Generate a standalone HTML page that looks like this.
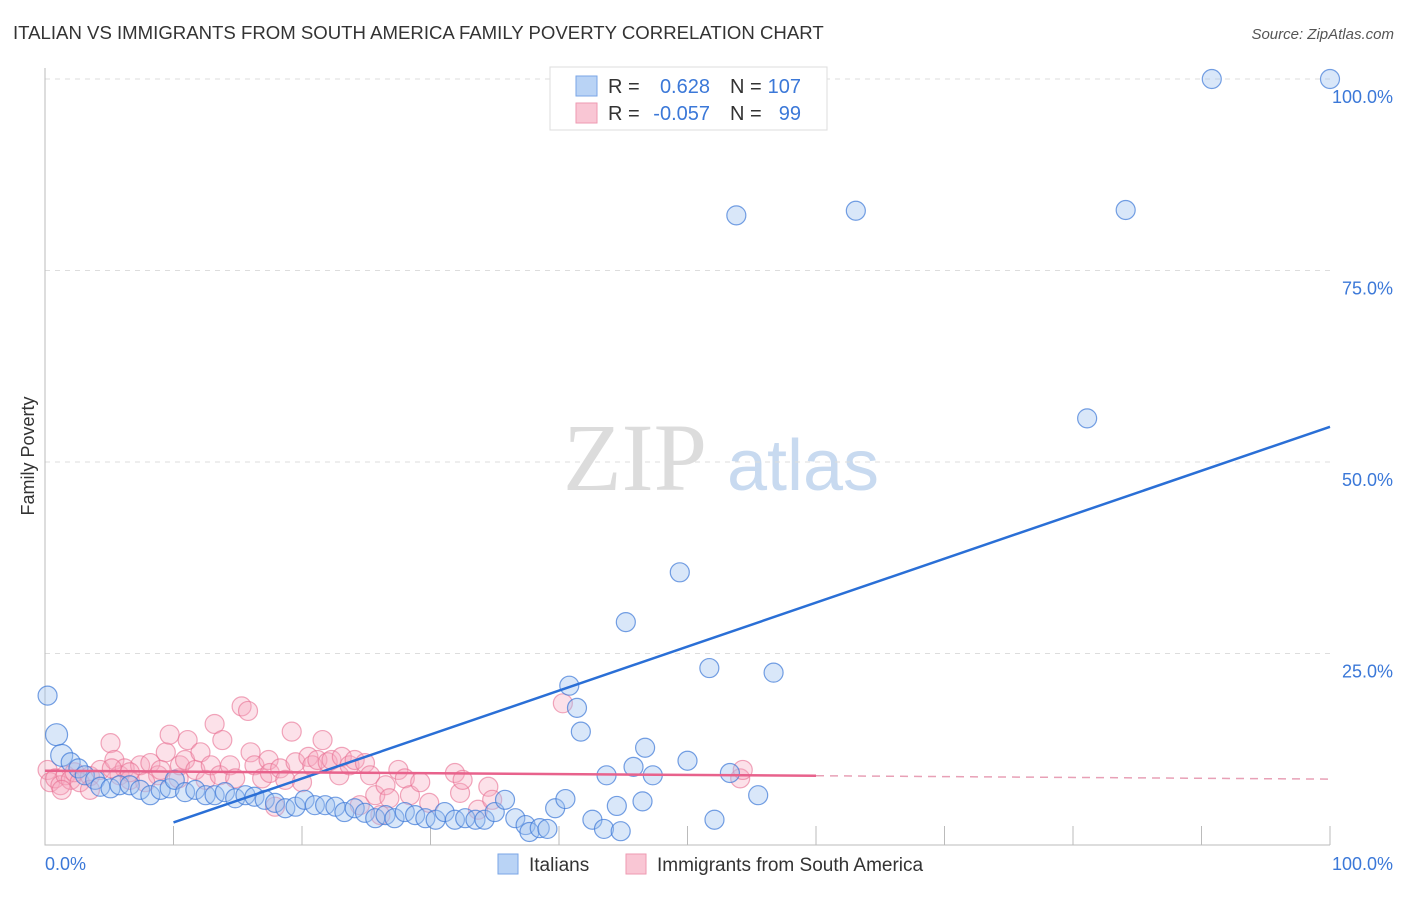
<!DOCTYPE html>
<html><head><meta charset="utf-8"><style>
body{margin:0;background:#fff;width:1406px;height:892px;overflow:hidden;font-family:"Liberation Sans",sans-serif}
</style></head><body>
<svg id="chart" width="1406" height="892" xmlns="http://www.w3.org/2000/svg" style="font-family:'Liberation Sans',sans-serif">
<text x="13" y="39" font-size="18.6" fill="#333">ITALIAN VS IMMIGRANTS FROM SOUTH AMERICA FAMILY POVERTY CORRELATION CHART</text>
<text x="1394" y="39" font-size="15" fill="#555" text-anchor="end" font-style="italic">Source: ZipAtlas.com</text>
<text transform="translate(34,456) rotate(-90)" font-size="18" fill="#333" text-anchor="middle">Family Poverty</text>
<g>
<text x="635" y="490" font-size="96" fill="#dcdcdc" font-family="Liberation Serif,serif" text-anchor="middle">ZIP</text>
<text x="803" y="490" font-size="72" fill="#c8daf0" text-anchor="middle">atlas</text>
</g>
<g id="grid"></g><g id="ticks"></g><g id="pink"></g><g id="blue"></g><g id="lines"></g>
<g>
<rect x="550" y="67" width="277" height="63" fill="#fff" stroke="#ddd"/>
<rect x="576" y="76" width="21" height="20" fill="#b9d3f5" stroke="#7aa6e6"/>
<rect x="576" y="103" width="21" height="20" fill="#f9c6d4" stroke="#ee9ab2"/>
<text x="608" y="93" font-size="20" fill="#333">R =</text>
<text x="710" y="93" font-size="20" fill="#3b78d8" text-anchor="end">0.628</text>
<text x="730" y="93" font-size="20" fill="#333">N =</text>
<text x="801" y="93" font-size="20" fill="#3b78d8" text-anchor="end">107</text>
<text x="608" y="120" font-size="20" fill="#333">R =</text>
<text x="710" y="120" font-size="20" fill="#3b78d8" text-anchor="end">-0.057</text>
<text x="730" y="120" font-size="20" fill="#333">N =</text>
<text x="801" y="120" font-size="20" fill="#3b78d8" text-anchor="end">99</text>
</g>
<g>
<rect x="498" y="854" width="20" height="20" fill="#b9d3f5" stroke="#7aa6e6"/>
<text x="529" y="871" font-size="19" fill="#333">Italians</text>
<rect x="626" y="854" width="20" height="20" fill="#f9c6d4" stroke="#ee9ab2"/>
<text x="657" y="871" font-size="19" fill="#333">Immigrants from South America</text>
</g>
</svg>
<script>
const yTicks=[25,50,75,100];
const yTickLabels=["25.0%","50.0%","75.0%","100.0%"];
const xTicks=[10,20,30,40,50,60,70,80,90,100];
const blueX=[0.2,0.9,1.3,2,2.6,3.1,3.9,4.3,5.1,5.8,6.6,7.4,8.2,9,9.7,10.1,10.9,11.7,12.5,13.2,14,14.8,15.6,16.3,17.1,17.9,18.7,19.5,20.2,21,21.8,22.6,23.3,24.1,24.9,25.7,26.5,27.2,28,28.8,29.6,30.4,31.1,31.9,32.7,33.5,34.2,35,35.8,36.6,37.4,37.7,38.5,39.1,39.7,40.5,40.8,41.4,41.7,42.6,43.5,43.7,44.5,44.8,45.2,45.8,46.5,46.7,47.3,49.4,50,51.7,52.1,53.3,53.8,55.5,56.7,63.1,81.1,84.1,90.8,100];
const blueY=[19.5,14.4,11.7,10.8,10,9.1,8.5,7.6,7.4,7.8,7.8,7.2,6.5,7.2,7.4,8.5,6.9,7.2,6.5,6.5,6.9,6.1,6.5,6.3,5.9,5.5,4.8,5,5.9,5.2,5.2,5,4.3,4.8,4.2,3.5,3.9,3.5,4.3,3.9,3.5,3.3,4.3,3.3,3.5,3.3,3.3,4.3,5.9,3.5,2.6,1.7,2.2,2.1,4.8,6,20.8,17.9,14.8,3.3,2.1,9.1,5.1,1.8,29.1,10.2,5.7,12.7,9.1,35.6,11,23.1,3.3,9.4,82.2,6.5,22.5,82.8,55.7,82.9,100,100];
const pinkX=[0.2,0.4,0.8,1.2,1.6,2,2.3,2.7,3.5,4.3,5.1,5.4,5.8,6.2,6.6,7.4,8.2,8.8,9.4,9.7,10.4,10.5,10.9,11.1,11.7,12.1,12.5,12.9,13.2,13.6,13.8,14.4,14.8,15.3,15.8,16,16.3,16.9,17.4,17.5,17.9,18.3,18.7,19.2,19.5,20,20.5,20.8,21.2,21.6,22,22.3,22.9,23.1,23.7,24.1,24.5,24.9,25.3,25.7,26.1,26.5,26.8,27.5,28,28.4,29.2,29.9,31.9,32.3,32.5,33.7,34.5,34.8,40.3,54.1,54.3,5.2,7.8,9,6.6,3.5,1.3];
const pinkY=[9.8,8.2,8.7,7.8,9.1,8.5,9.5,8.2,9,9.8,13.3,11.1,9.1,10,8.5,10.4,10.7,9.1,12.1,14.4,8.7,10.4,11.1,13.7,9.8,12.1,8.5,10.4,15.8,9.1,13.7,10.4,8.7,18.1,17.5,12.1,10.4,8.7,11.1,9.4,5,10,8.5,14.8,10.8,8.2,11.5,10.4,11.1,13.7,10.8,11.1,9.1,11.5,10.4,11.1,5.2,10.7,9.1,6.5,3.9,7.8,6.1,9.8,8.7,6.5,8.2,5.5,9.4,6.8,8.5,4.6,7.6,5.9,18.5,8.7,9.8,10,8.2,9.8,9.5,7.2,7.2];
const blueTrend=[-2.8,54.6];
const pinkTrend=[9.7,8.6];
const X=v=>45+v*12.85, Y=v=>845-v*7.66;
const NS="http://www.w3.org/2000/svg";
function mk(parent,tag,attrs){const e=document.createElementNS(NS,tag);for(const k in attrs)e.setAttribute(k,attrs[k]);document.getElementById(parent).appendChild(e);return e;}
yTicks.forEach((t,i)=>{
 const g=mk('grid','line',{x1:45,x2:1330,y1:Y(t),y2:Y(t),stroke:'#ddd','stroke-dasharray':'5,5'});
 
 
 const l=mk('grid','text',{x:1393,y:Y(t)+24,'font-size':18,fill:'#3b78d8','text-anchor':'end'});
 l.textContent=yTickLabels[i];
 
 
});
const ax=mk('ticks','path',{d:'M45,68 V845 H1330',fill:'none',stroke:'#bbb'});


xTicks.forEach(t=>{
 const tk=mk('ticks','line',{x1:X(t),x2:X(t),y1:826,y2:845,stroke:'#bbb'});
 
 
});
const x0=mk('ticks','text',{x:45,y:870,'font-size':18,fill:'#3b78d8'});x0.textContent='0.0%';


const x1=mk('ticks','text',{x:1393,y:870,'font-size':18,fill:'#3b78d8','text-anchor':'end'});x1.textContent='100.0%';


pinkX.forEach((v,i)=>{
 const c=mk('pink','circle',{cx:X(v),cy:Y(pinkY[i]),r:9.5,fill:'rgba(246,170,192,0.35)',stroke:'rgba(232,110,145,0.6)','stroke-width':1.2});
 
 
});
blueX.forEach((v,i)=>{
 const c=mk('blue','circle',{cx:X(v),cy:Y(blueY[i]),r:i<3?(i==0?9.5:11):9.5,fill:'rgba(160,195,240,0.4)',stroke:'rgba(60,120,215,0.7)','stroke-width':1.2});
 
 
});
const bx0=10, by=v=>blueTrend[0]+(blueTrend[1]-blueTrend[0])*v/100, py=v=>pinkTrend[0]+(pinkTrend[1]-pinkTrend[0])*v/100;
const bl=mk('lines','line',{x1:X(bx0),y1:Y(by(bx0)),x2:X(100),y2:Y(by(100)),stroke:'#2a6fd6','stroke-width':2.5});


const pl=mk('lines','line',{x1:X(0),y1:Y(py(0)),x2:X(60),y2:Y(py(60)),stroke:'#e8628c','stroke-width':2.5});


const pd=mk('lines','line',{x1:X(60),y1:Y(py(60)),x2:X(100),y2:Y(py(100)),stroke:'#e8a0b6','stroke-width':1.5,'stroke-dasharray':'8,6'});


</script>
</body></html>
